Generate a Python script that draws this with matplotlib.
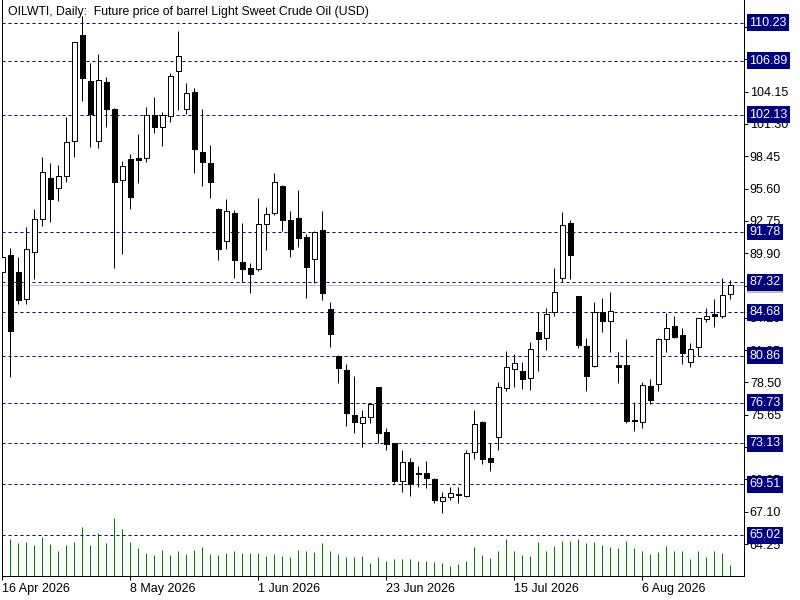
import matplotlib
matplotlib.use("Agg")
import matplotlib.pyplot as plt
from matplotlib.transforms import blended_transform_factory

plt.rcParams['font.family'] = ['Liberation Sans', 'DejaVu Sans']

title = "OILWTI, Daily:  Future price of barrel Light Sweet Crude Oil (USD)"

opens = [88.26, 89.71, 88.21, 85.82, 89.97, 92.88, 96.50, 95.61, 96.67, 99.76,
         109.14, 105.08, 99.76, 104.99, 102.58, 96.32, 98.20, 98.29, 98.26, 102.11,
         101.00, 101.99, 105.93, 102.58, 104.08, 98.79, 97.82, 93.76, 90.94, 93.44,
         89.09, 88.56, 88.47, 92.44, 93.41, 95.82, 92.83, 92.97, 91.30, 89.36,
         91.91, 84.95, 80.86, 79.60, 75.63, 74.89, 75.42, 78.07, 74.13, 73.13,
         69.84, 71.45, 70.48, 70.48, 69.95, 68.04, 68.37, 68.66, 68.51, 72.33,
         74.98, 71.80, 73.71, 78.04, 79.65, 79.51, 78.86, 82.98, 82.39, 84.74,
         87.68, 92.53, 86.12, 81.71, 79.98, 84.68, 83.89, 80.04, 80.04, 75.19,
         74.98, 78.19, 78.33, 82.30, 83.48, 82.69, 80.33, 81.60, 84.07, 84.51,
         84.39, 86.27]
highs = [89.90, 90.32, 89.53, 92.18, 93.76, 98.38, 97.82, 97.67, 101.88, 108.55,
         110.80, 106.64, 107.46, 105.46, 102.67, 98.03, 98.61, 100.41, 102.76, 103.64,
         102.32, 105.76, 109.52, 104.88, 104.43, 102.58, 99.41, 93.85, 94.64, 93.70,
         92.59, 89.00, 94.80, 94.00, 97.00, 95.94, 93.62, 95.47, 91.59, 91.86,
         93.65, 85.62, 80.90, 80.13, 79.07, 76.07, 76.66, 78.10, 74.51, 73.19,
         72.54, 71.80, 71.13, 71.57, 70.10, 68.81, 69.25, 69.25, 72.54, 76.07,
         75.13, 73.13, 78.57, 81.27, 80.98, 80.27, 82.09, 84.68, 85.03, 88.62,
         93.56, 92.82, 86.15, 82.39, 85.56, 85.92, 86.45, 81.20, 82.33, 76.75,
         78.57, 78.81, 82.45, 84.66, 84.36, 83.33, 81.95, 84.21, 85.04, 85.86,
         87.74, 87.54]
lows = [87.90, 78.95, 85.41, 85.41, 87.65, 92.29, 92.67, 94.53, 96.20, 98.41,
        103.35, 99.29, 99.14, 101.05, 88.62, 89.85, 93.82, 96.11, 97.97, 100.52,
        99.35, 101.49, 102.52, 102.14, 96.94, 95.79, 94.73, 89.32, 90.29, 87.74,
        87.32, 86.36, 88.30, 90.18, 93.30, 91.89, 89.59, 90.42, 85.92, 87.30,
        85.77, 81.65, 78.42, 74.66, 74.07, 72.83, 74.95, 73.19, 72.54, 69.60,
        68.86, 68.51, 69.31, 69.16, 67.89, 67.01, 68.13, 67.84, 68.40, 71.72,
        71.31, 70.72, 72.54, 77.77, 78.12, 77.92, 77.83, 79.51, 81.36, 84.39,
        87.33, 87.62, 81.56, 77.74, 79.89, 82.98, 81.15, 78.42, 74.95, 74.22,
        74.51, 76.57, 77.75, 81.22, 82.39, 80.10, 79.89, 80.86, 83.80, 83.42,
        84.21, 85.83]
closes = [89.59, 83.06, 85.77, 90.23, 92.88, 97.03, 94.70, 96.67, 99.67, 108.49,
          105.38, 102.14, 105.14, 102.64, 96.20, 97.58, 94.88, 98.14, 102.05, 101.00,
          102.05, 105.55, 107.26, 103.99, 99.05, 97.97, 96.20, 90.29, 93.59, 89.32,
          88.53, 88.06, 92.47, 93.33, 96.15, 92.86, 90.24, 91.27, 88.65, 91.80,
          86.42, 82.74, 79.80, 75.83, 74.98, 75.48, 76.57, 74.07, 73.04, 69.84,
          71.45, 69.54, 70.40, 70.04, 68.13, 68.42, 68.72, 68.60, 72.25, 74.80,
          71.75, 71.51, 78.07, 79.83, 80.18, 78.83, 81.45, 82.36, 84.53, 86.45,
          92.38, 89.74, 81.80, 79.07, 84.68, 83.95, 84.77, 79.89, 75.10, 75.10,
          78.28, 76.98, 82.33, 83.27, 82.54, 81.13, 81.42, 84.16, 84.39, 84.39,
          86.21, 87.10]
volumes = [30, 37, 33, 34, 31, 39, 32, 25, 31, 34,
           49, 31, 43, 33, 58, 47, 34, 28, 23, 21,
           26, 21, 25, 22, 26, 29, 22, 21, 23, 25,
           23, 23, 23, 20, 22, 20, 19, 26, 25, 24,
           33, 25, 22, 19, 19, 20, 13, 19, 15, 17,
           17, 17, 15, 15, 14, 13, 10, 12, 15, 29,
           21, 18, 25, 37, 25, 21, 20, 34, 25, 30,
           35, 35, 37, 33, 34, 31, 29, 28, 35, 28,
           25, 22, 24, 30, 25, 25, 17, 25, 19, 25,
           23, 11]

level_prices = [110.23, 106.89, 102.13, 91.78, 87.32, 84.68, 80.86, 76.73, 73.13, 69.51, 65.02]
bid_price = 87.10
ytick_values = [64.25, 67.10, 69.95, 72.80, 75.65, 78.50, 81.35, 84.20, 87.05, 89.90,
                92.75, 95.60, 98.45, 101.30, 104.15, 107.00, 109.85]
xtick_positions = [0, 16, 32, 48, 64, 80]
xtick_labels = ["16 Apr 2026", "8 May 2026", "1 Jun 2026", "23 Jun 2026", "15 Jul 2026", "6 Aug 2026"]

NAVY = '#000080'
PX = 0.72  # one pixel in points at dpi 100

fig = plt.figure(figsize=(8, 6), dpi=100)
ax = fig.add_axes([2.3 / 800, 24 / 600, 742 / 800, 576 / 600])
ax.set_xlim(0, 92.75)
ax.set_ylim(61.43, 112.23)

n = len(opens)
xs = list(range(n))

# volume bars (overlaid at bottom)
vmax = max(volumes)
vol_frac = [v / vmax * 0.1007 for v in volumes]
ax.vlines(xs, [0] * n, vol_frac, colors='#008000', linewidth=PX,
          transform=ax.get_xaxis_transform(), zorder=1)

# level lines
for p in level_prices:
    ax.axhline(p, color=NAVY, linewidth=PX, linestyle=(0, (3, 3)), zorder=2)
ax.axhline(bid_price, color='#C0C0C0', linewidth=PX, zorder=1.5)

# candles
ax.vlines(xs, lows, highs, colors='black', linewidth=PX, zorder=3)
bottoms = [min(o, c) for o, c in zip(opens, closes)]
heights = [max(abs(c - o), 0.02) for o, c in zip(opens, closes)]
fills = ['white' if c > o else 'black' for o, c in zip(opens, closes)]
ax.bar(xs, heights, bottom=bottoms, width=0.6, color=fills, edgecolor='black',
       linewidth=PX, zorder=4)

# axes styling
ax.spines['top'].set_visible(False)
for s in ['left', 'right', 'bottom']:
    ax.spines[s].set_linewidth(PX)
    ax.spines[s].set_color('black')

ax.yaxis.tick_right()
ax.set_yticks(ytick_values)
ax.set_yticklabels([f"{v:.2f}" for v in ytick_values])
ax.tick_params(axis='y', direction='out', length=3, width=PX, labelsize=9, pad=1, colors='black')

ax.set_xticks(xtick_positions)
ax.set_xticklabels(xtick_labels)
ax.tick_params(axis='x', direction='out', length=3, width=PX, labelsize=9, pad=2, colors='black')
for lbl in ax.get_xticklabels():
    lbl.set_ha('left')

# price labels on the right
trans = blended_transform_factory(ax.transAxes, ax.transData)
ax.text(1.0 + 5.0 / 742, bid_price, f"{bid_price:.2f}", transform=trans, ha='left', va='center',
        fontsize=9, color='white', clip_on=False, zorder=5,
        bbox=dict(boxstyle='square,pad=0.18', fc='#C0C0C0', ec='none'))
for p in level_prices:
    ax.text(1.0 + 5.0 / 742, p, f"{p:.2f}", transform=trans, ha='left', va='center',
            fontsize=9, color='white', clip_on=False, zorder=6,
            bbox=dict(boxstyle='square,pad=0.18', fc=NAVY, ec='none'))

fig.text(8 / 800, 1 - 12 / 600, title, ha='left', va='center', fontsize=8.8, color='black')

fig.savefig('out.png', dpi=100)
